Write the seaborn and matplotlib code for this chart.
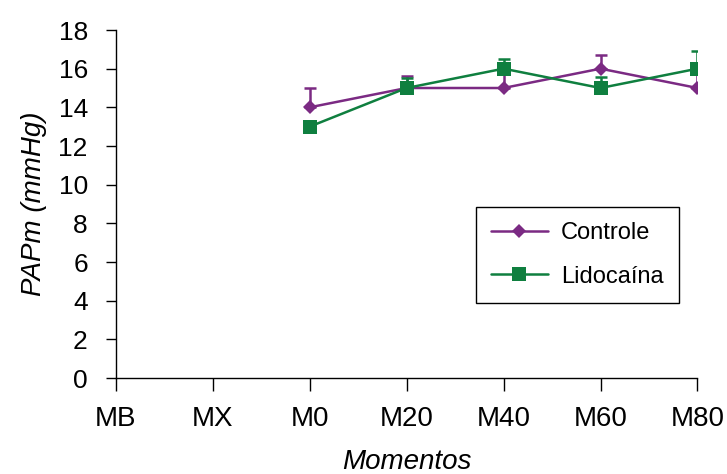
import matplotlib
matplotlib.use("Agg")
import matplotlib.pyplot as plt
import pandas as pd
import seaborn as sns

momentos = ['MB', 'MX', 'M0', 'M20', 'M40', 'M60', 'M80']
pos_controle = [2, 3, 4, 5, 6]
controle = [14, 15, 15, 16, 15]
controle_err = [1.0, 0.6, 0.9, 0.7, 1.0]
pos_lido = [2, 3, 4, 5, 6]
lidocaina = [13, 15, 16, 15, 16]
lidocaina_err = [0.3, 0.5, 0.5, 0.55, 0.9]

ROXO = '#7b2a83'
VERDE = '#0f7f3f'

sns.set_theme(style="ticks")
plt.rcParams['font.family'] = ['Liberation Sans', 'DejaVu Sans']
plt.rcParams['text.color'] = 'black'

df = pd.concat([
    pd.DataFrame({'x': pos_controle, 'PAPm': controle, 'Grupo': 'Controle'}),
    pd.DataFrame({'x': pos_lido, 'PAPm': lidocaina, 'Grupo': 'Lidocaína'}),
])

fig, ax = plt.subplots(figsize=(7.27, 4.74), dpi=100)
fig.subplots_adjust(left=0.159, right=0.9594, top=0.9367, bottom=0.2025)

# barras de erro só para cima (estilo Excel)
ax.errorbar(pos_controle, controle, yerr=[[0] * 5, controle_err], fmt='none',
            ecolor=ROXO, elinewidth=1.8, capsize=4, capthick=1.8, zorder=2)
ax.errorbar(pos_lido, lidocaina, yerr=[[0] * 5, lidocaina_err], fmt='none',
            ecolor=VERDE, elinewidth=1.8, capsize=4, capthick=1.8, zorder=2)

sns.lineplot(data=df, x='x', y='PAPm', hue='Grupo', style='Grupo',
             palette=[ROXO, VERDE], markers=['D', 's'], dashes=False,
             markersize=9, markeredgewidth=0, linewidth=1.8, ax=ax, zorder=3)
for ln in ax.lines:
    if ln.get_marker() == 'D':
        ln.set_markersize(7)
    elif ln.get_marker() == 's':
        ln.set_markersize(10)

ax.set_xlim(0, 6)
ax.set_ylim(0, 18)
ax.set_xticks(range(len(momentos)))
ax.set_xticklabels(momentos)
ax.set_yticks(range(0, 19, 2))
ax.tick_params(axis='both', length=7, width=1, color='black', labelcolor='black')
ax.tick_params(axis='x', labelsize=20, pad=11.5, length=9)
ax.tick_params(axis='y', labelsize=19, pad=13)
sns.despine(ax=ax)
for s in ['left', 'bottom']:
    ax.spines[s].set_color('black')
    ax.spines[s].set_linewidth(1)

ax.set_xlabel('Momentos', fontsize=20, style='italic', labelpad=12, color='black')
ax.set_ylabel('PAPm (mmHg)', fontsize=20, style='italic', labelpad=8, color='black')

leg = ax.legend(loc='upper left', bbox_to_anchor=(0.619, 0.491), fontsize=17,
                frameon=True, fancybox=False, edgecolor='black',
                handlelength=2.4, borderpad=0.65, labelspacing=0.9,
                handletextpad=0.55, borderaxespad=0, labelcolor='black')
leg.get_frame().set_linewidth(1)
leg.get_frame().set_alpha(None)

fig.savefig('out.png', dpi=100)
